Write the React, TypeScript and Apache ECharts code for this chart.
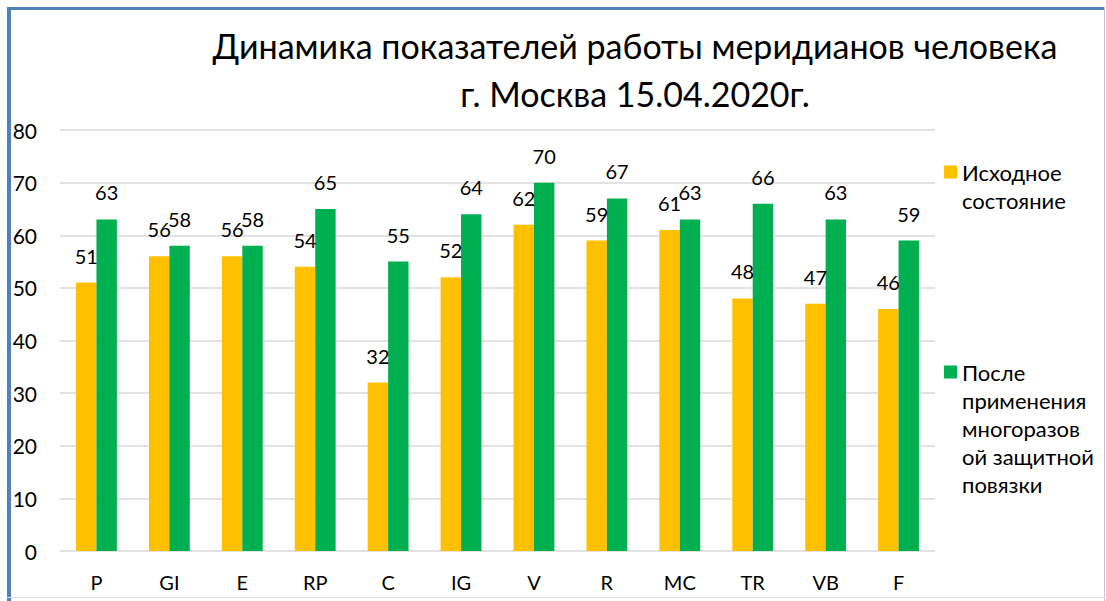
import React, { useEffect, useRef } from "react";
import * as echarts from "echarts";

const categories = ["P", "GI", "E", "RP", "C", "IG", "V", "R", "MC", "TR", "VB", "F"];
const initialValues = [51, 56, 56, 54, 32, 52, 62, 59, 61, 48, 47, 46];
const afterValues = [63, 58, 58, 65, 55, 64, 70, 67, 63, 66, 63, 59];
const seriesNames = ["Исходное\nсостояние", "После\nприменения\nмногоразов\nой защитной\nповязки"];
const titleLines = ["Динамика показателей работы меридианов человека", "г. Москва 15.04.2020г."];

const FONT = "Lato, 'Open Sans', sans-serif";

export default function App() {
  const ref = useRef<HTMLDivElement>(null);
  useEffect(() => {
    document.body.style.margin = "0";
    const chart = echarts.init(ref.current!, null, { renderer: "svg" });
    const labelStyle = {
      show: true,
      position: "top" as const,
      distance: 17,
      fontSize: 20,
      color: "#000",
      fontFamily: FONT,
    };
    // pad with leading blank lines so the legend marker sits beside the first line
    const legendFormatter = (name: string) => {
      const n = name.split("\n").length;
      return "\n".repeat(n - 1) + name;
    };
    chart.setOption({
      animation: false,
      backgroundColor: "#fff",
      textStyle: { fontFamily: FONT },
      title: {
        text: titleLines.join("\n"),
        left: 630,
        top: 16,
        textAlign: "center",
        textStyle: { fontSize: 34, fontWeight: "normal", color: "#000", lineHeight: 48, fontFamily: FONT },
      },
      legend: [
        {
          left: 944,
          top: 130,
          padding: 0,
          itemWidth: 13,
          itemHeight: 13,
          icon: "rect",
          selectedMode: false,
          formatter: legendFormatter,
          data: [{ name: seriesNames[0] }],
          textStyle: { fontSize: 22, lineHeight: 28, color: "#000", fontFamily: FONT },
        },
        {
          left: 944,
          top: 246,
          padding: 0,
          itemWidth: 13,
          itemHeight: 13,
          icon: "rect",
          selectedMode: false,
          formatter: legendFormatter,
          data: [{ name: seriesNames[1] }],
          textStyle: { fontSize: 22, lineHeight: 28, color: "#000", fontFamily: FONT },
        },
      ],
      grid: { left: 60, right: 171, top: 130, bottom: 50, containLabel: false },
      xAxis: {
        type: "category",
        data: categories,
        axisLine: { show: false },
        axisTick: { show: false },
        axisLabel: { fontSize: 20, color: "#000", margin: 21, fontFamily: FONT },
      },
      yAxis: {
        type: "value",
        min: 0,
        max: 80,
        interval: 10,
        axisLine: { show: false },
        axisTick: { show: false },
        axisLabel: { fontSize: 21, color: "#000", margin: 23, fontFamily: FONT },
        splitLine: { lineStyle: { color: "#D9D9D9", width: 1.5 } },
      },
      series: [
        {
          name: seriesNames[0],
          type: "bar",
          data: initialValues,
          itemStyle: { color: "#FFC000" },
          barGap: "0%",
          barCategoryGap: "44%",
          label: labelStyle,
        },
        {
          name: seriesNames[1],
          type: "bar",
          data: afterValues,
          itemStyle: { color: "#00B050" },
          barGap: "0%",
          barCategoryGap: "44%",
          label: labelStyle,
        },
      ],
      graphic: [
        { type: "rect", shape: { x: 7, y: 7, width: 1098, height: 3 }, style: { fill: "#4F81BD" } },
        { type: "rect", shape: { x: 7, y: 7, width: 4, height: 594 }, style: { fill: "#4F81BD" } },
        { type: "rect", shape: { x: 1104, y: 7, width: 1, height: 594 }, style: { fill: "#B4C7E7" } },
        { type: "rect", shape: { x: 7, y: 597, width: 1098, height: 1 }, style: { fill: "#DAE3F3" } },
      ],
    });
    return () => chart.dispose();
  }, []);
  return <div ref={ref} style={{ width: 1106, height: 601 }} />;
}
